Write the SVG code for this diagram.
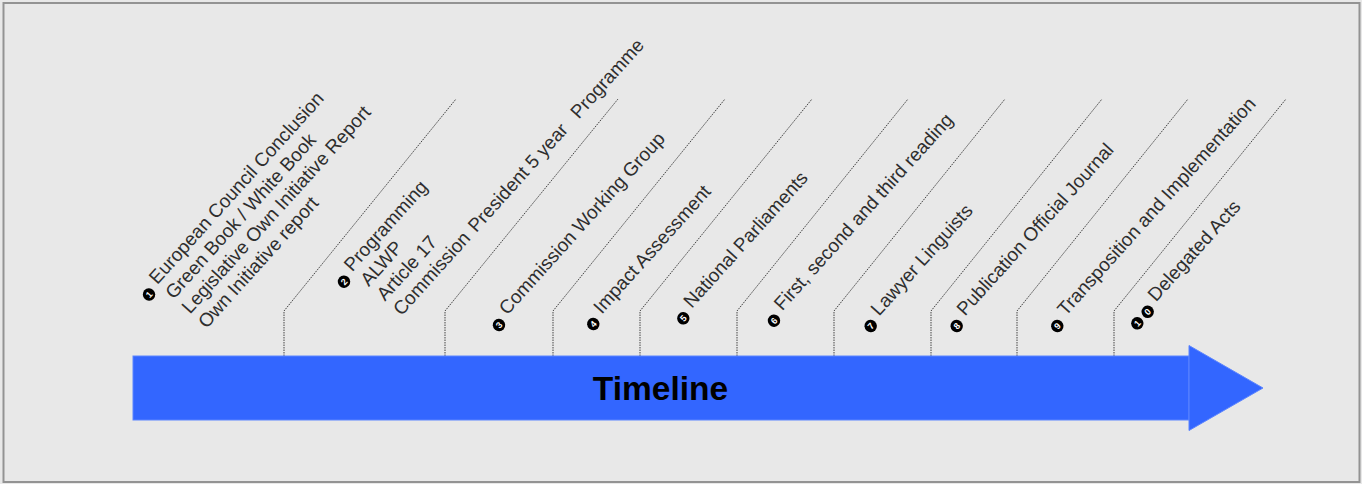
<svg xmlns="http://www.w3.org/2000/svg" width="1362" height="484" viewBox="0 0 1362 484">
<style>
.lbl{font-family:"Liberation Sans",Arial,sans-serif;font-size:19px;fill:#2e2e2e;white-space:pre}
.dot{fill:#000000}
.num{font-family:"Liberation Sans",Arial,sans-serif;font-size:9px;font-weight:bold;fill:#ffffff;text-anchor:middle}
.conn{fill:none;stroke:#444444;stroke-width:1;stroke-dasharray:1.5 1}
.arrow{fill:#3366ff;stroke:#5c85ff;stroke-width:1}
</style>
<defs>
<circle id="b" r="6.2" class="dot"/>
</defs>
<rect x="0" y="0" width="1362" height="484" fill="#e8e8e8"/>
<rect x="3.5" y="3" width="1356" height="479" fill="#e8e8e8" stroke="#939393" stroke-width="2"/>
<g id="connectors">
<polyline class="conn" points="284,356 284,311 456,99"/>
<polyline class="conn" points="445,356 445,311 618,99"/>
<polyline class="conn" points="553,356 553,311 725,99"/>
<polyline class="conn" points="640,356 640,311 812,99"/>
<polyline class="conn" points="737,356 737,311 908,99"/>
<polyline class="conn" points="834,356 834,311 1005,99"/>
<polyline class="conn" points="931,356 931,311 1102,99"/>
<polyline class="conn" points="1017,356 1017,311 1188,99"/>
<polyline class="conn" points="1114,356 1114,311 1286,99"/>
</g>
<g id="timeline">
<rect class="arrow" x="133" y="356" width="1056" height="64"/>
<polygon class="arrow" points="1189,345.5 1263,388 1189,430.5"/>
<text x="660.5" y="400" font-family="Liberation Sans,Arial,sans-serif" font-size="33.5" font-weight="bold" fill="#000000" text-anchor="middle">Timeline</text>
</g>
<g id="label1" transform="translate(149,294.5) rotate(-48)">
<use href="#b"/><text class="num" x="0" y="3.2">1</text>
<text class="lbl"><tspan x="12.5" y="0">European Council Conclusion</tspan><tspan x="12.5" y="22">Green Book / White Book</tspan><tspan x="12.5" y="44">Legislative Own Initiative Report</tspan><tspan x="12.5" y="66">Own Initiative report</tspan></text>
</g>
<g id="label2" transform="translate(344,281.7) rotate(-48)">
<use href="#b"/><text class="num" x="0" y="3.2">2</text>
<text class="lbl"><tspan x="12.5" y="0">Programming</tspan><tspan x="12.5" y="22">ALWP</tspan><tspan x="12.5" y="44">Article 17</tspan><tspan x="12.5" y="66">Commission</tspan><tspan x="124.5" y="66">President 5 year</tspan><tspan x="277.5" y="66">Programme</tspan></text>
</g>
<g id="label3" transform="translate(499,325) rotate(-48)">
<use href="#b"/><text class="num" x="0" y="3.2">3</text>
<text class="lbl" x="12.5" y="0">Commission Working Group</text>
</g>
<g id="label4" transform="translate(593.3,324) rotate(-48)">
<use href="#b"/><text class="num" x="0" y="3.2">4</text>
<text class="lbl" x="12.5" y="0">Impact Assessment</text>
</g>
<g id="label5" transform="translate(683.3,318.3) rotate(-48)">
<use href="#b"/><text class="num" x="0" y="3.2">5</text>
<text class="lbl" x="12.5" y="0">National Parliaments</text>
</g>
<g id="label6" transform="translate(774,320.7) rotate(-48)">
<use href="#b"/><text class="num" x="0" y="3.2">6</text>
<text class="lbl" x="12.5" y="0">First, second and third reading</text>
</g>
<g id="label7" transform="translate(870.7,326) rotate(-48)">
<use href="#b"/><text class="num" x="0" y="3.2">7</text>
<text class="lbl" x="12.5" y="0">Lawyer Linguists</text>
</g>
<g id="label8" transform="translate(956.7,326) rotate(-48)">
<use href="#b"/><text class="num" x="0" y="3.2">8</text>
<text class="lbl" x="12.5" y="0">Publication Official Journal</text>
</g>
<g id="label9" transform="translate(1057.3,326) rotate(-48)">
<use href="#b"/><text class="num" x="0" y="3.2">9</text>
<text class="lbl" x="12.5" y="0">Transposition and Implementation</text>
</g>
<g id="label10" transform="translate(1137.3,323.3) rotate(-48)">
<use href="#b"/><text class="num" x="0" y="3.2">1</text>
<use href="#b" x="15.5"/><text class="num" x="15.5" y="3.2">0</text>
<text class="lbl" x="28" y="0">Delegated Acts</text>
</g>
</svg>
